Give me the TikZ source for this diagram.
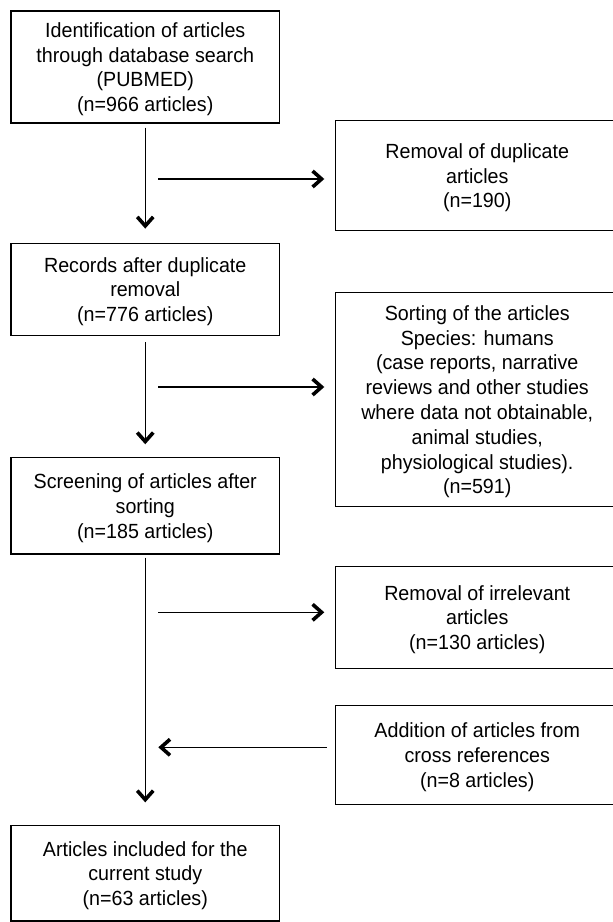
\documentclass[tikz,border=0pt]{standalone}
\usepackage{fontspec}
\setmainfont{Liberation Sans}[FakeStretch=0.96]
\usetikzlibrary{arrows.meta}

\begin{document}
\begin{tikzpicture}[x=1pt,y=-1pt,
    box/.style={draw,line width=1.4pt,inner sep=0pt,align=center,
      minimum width=268.5pt,font=\fontsize{20.5}{24.8}\selectfont,
      text depth=-9pt},
    sidebox/.style={box,minimum width=283.5pt},
    arr/.style={line width=1.4pt,-{Straight Barb[length=9pt,width=16pt,line width=3.6pt]}}]
      \useasboundingbox (0,0) rectangle (613,922);
      \clip (0,0) rectangle (613,922);

      \path
      (145.25,67) node[box,minimum height=112pt] (ident)
        {Identification of articles\\through database search\\(PUBMED)\\(n=966 articles)}
      (145.25,289.5) node[box,minimum height=92.4pt] (records)
        {Records after duplicate\\removal\\(n=776 articles)}
      (145.25,505.8) node[box,minimum height=96.3pt] (screen)
        {Screening of articles after\\sorting\\(n=185 articles)}
      (145.25,873.4) node[box,minimum height=95.3pt] (incl)
        {Articles included for the\\current study\\(n=63 articles)}
      ;
      \path
      (477.25,175.7) node[sidebox,minimum height=110pt] (dupl)
        {Removal of duplicate\\articles\\(n=190)}
      (477.25,399.7) node[sidebox,minimum height=214pt] (sorting)
        {Sorting of the articles\\Species: humans\\(case reports, narrative\\reviews and other studies\\where data not obtainable,\\animal studies,\\physiological studies).\\(n=591)}
      (477.25,617.5) node[sidebox,minimum height=101.6pt] (irrel)
        {Removal of irrelevant\\articles\\(n=130 articles)}
      (477.25,755) node[sidebox,minimum height=98.6pt] (cross)
        {Addition of articles from\\cross references\\(n=8 articles)}
      ;
      \path
      (158,179) coordinate (h1)
      (158,387) coordinate (h2)
      (158,612.3) coordinate (h3)
      (158.3,747.3) coordinate (h4)
      ;

      \draw[arr,shorten <=4pt,shorten >=14pt] (ident) -- (records);
      \draw[arr,shorten <=6pt,shorten >=12.7pt] (records) -- (screen);
      \draw[arr,shorten <=3pt,shorten >=22.7pt] (screen) -- (incl);

      \draw[arr,shorten >=10.5pt] (h1) -- (h1 -| dupl.west);
      \draw[arr,shorten >=10.5pt] (h2) -- (h2 -| sorting.west);
      \draw[arr,shorten >=10.5pt] (h3) -- (h3 -| irrel.west);
      \draw[arr,shorten <=8pt] (h4 -| cross.west) -- (h4);
    \end{tikzpicture}
\end{document}
